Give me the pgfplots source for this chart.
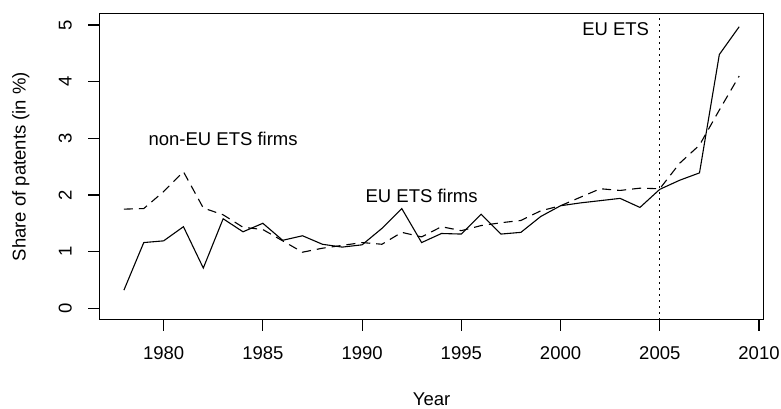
\documentclass[border=0pt]{standalone}
\usepackage{fontspec}
\setmainfont{Liberation Sans}
\usepackage{pgfplots}
\pgfplotsset{compat=1.18}
\begin{document}
\begin{tikzpicture}[font=\fontsize{18.5bp}{22bp}\selectfont]
\begin{axis}[
  at={(0,0)}, anchor=south west,
  scale only axis,
  width=664.5bp, height=305.9bp,
  xmin=1976.76, xmax=2010.24,
  ymin=-0.2, ymax=5.2,
  axis line style={line width=1.1bp},
  every tick/.style={line width=1.1bp, black},
  tick align=outside,
  major tick length=11bp,
  xtick pos=left, ytick pos=left,
  xtick={1980,1985,...,2010},
  ytick={0,1,...,5},
  /pgf/number format/assume math mode=true,
  xticklabel={\pgfmathprintnumber[1000 sep=]{\tick}},
  xticklabel style={anchor=base, yshift=-29bp},
  yticklabel style={xshift=-16.7bp, rotate=90, anchor=base},
  xlabel={Year},
  ylabel={Share of patents (in \%)},
  xlabel style={at={(axis description cs:0.5,-0.280)}, anchor=base},
  ylabel style={at={(axis description cs:-0.111,0.5)}, anchor=base, rotate=0},
  clip=false,
]
\addplot[black, line width=1.1bp] coordinates {
(1978,0.32)(1979,1.16)(1980,1.19)(1981,1.44)(1982,0.71)(1983,1.58)(1984,1.35)(1985,1.50)
(1986,1.20)(1987,1.28)(1988,1.13)(1989,1.08)(1990,1.12)(1991,1.41)(1992,1.76)(1993,1.16)
(1994,1.32)(1995,1.31)(1996,1.66)(1997,1.31)(1998,1.34)(1999,1.62)(2000,1.81)(2001,1.86)
(2002,1.90)(2003,1.94)(2004,1.78)(2005,2.10)(2006,2.26)(2007,2.39)(2008,4.48)(2009,4.97)
};
\addplot[black, line width=1.1bp, dash pattern=on 9bp off 6bp] coordinates {
(1978,1.75)(1979,1.76)(1980,2.06)(1981,2.41)(1982,1.77)(1983,1.65)(1984,1.43)(1985,1.39)
(1986,1.19)(1987,0.99)(1988,1.06)(1989,1.11)(1990,1.16)(1991,1.13)(1992,1.34)(1993,1.26)
(1994,1.44)(1995,1.37)(1996,1.46)(1997,1.51)(1998,1.55)(1999,1.72)(2000,1.81)(2001,1.96)
(2002,2.11)(2003,2.08)(2004,2.12)(2005,2.11)(2006,2.56)(2007,2.88)(2008,3.50)(2009,4.10)
};
\addplot[black, line width=1.1bp, dash pattern=on 1.5bp off 4.5bp] coordinates {(2005,-0.2)(2005,5.2)};
\node[anchor=base] at (axis cs:1983,2.87) {non-EU ETS firms};
\node[anchor=base] at (axis cs:1993,1.87) {EU ETS firms};
\node[anchor=base east, inner sep=0pt] at (axis cs:2004.47,4.82) {EU ETS};
\end{axis}
\pgfresetboundingbox
\path (-99.3bp,-89.4bp) rectangle (681.7bp,319.6bp);
\end{tikzpicture}
\end{document}
